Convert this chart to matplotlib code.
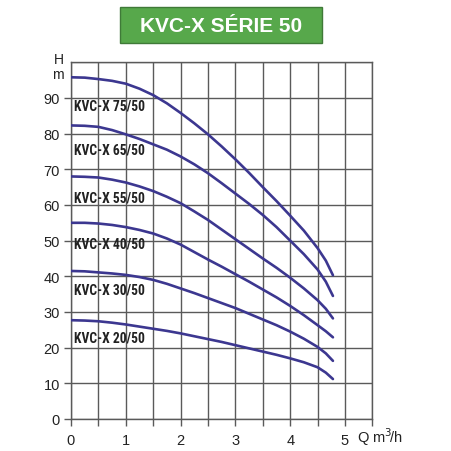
import numpy as np
import matplotlib.pyplot as plt
from matplotlib.patches import Rectangle

q = [0, 0.25, 0.5, 0.75, 1, 1.25, 1.5, 1.75, 2, 2.25, 2.5,
     2.75, 3, 3.25, 3.5, 3.75, 4, 4.25, 4.5, 4.65, 4.78]

# Head H (m) for each pump model
h_75 = [95.8, 95.7, 95.3, 94.8, 94.0, 92.6, 90.8, 88.5, 85.8, 82.9, 79.8,
        76.4, 72.8, 69.0, 65.0, 61.1, 57.0, 52.8, 47.9, 44.4, 40.3]
h_65 = [82.3, 82.2, 81.9, 81.0, 79.8, 78.5, 77.0, 75.5, 73.6, 71.4, 68.9,
        66.1, 63.2, 60.3, 57.2, 53.8, 50.0, 46.2, 41.9, 38.5, 34.5]
h_55 = [68.0, 67.9, 67.7, 67.1, 66.3, 65.2, 63.9, 62.3, 60.5, 58.2, 55.8,
        53.1, 50.4, 47.7, 45.0, 42.4, 39.6, 36.6, 33.3, 30.9, 28.2]
h_40 = [55.0, 55.0, 54.8, 54.4, 53.8, 53.0, 52.0, 50.6, 48.9, 46.8, 44.7,
        42.7, 40.6, 38.5, 36.3, 34.1, 31.7, 29.1, 26.3, 24.6, 22.9]
h_30 = [41.5, 41.4, 41.1, 40.8, 40.4, 39.8, 39.0, 37.9, 36.6, 35.3, 33.9,
        32.5, 31.1, 29.5, 27.9, 26.3, 24.5, 22.5, 20.2, 18.4, 16.3]
h_20 = [27.7, 27.6, 27.4, 27.0, 26.5, 25.9, 25.3, 24.7, 24.0, 23.2, 22.4,
        21.6, 20.7, 19.8, 18.9, 18.0, 17.0, 15.9, 14.5, 13.0, 11.2]

curves = [h_75, h_65, h_55, h_40, h_30, h_20]
names = ["KVC-X 75/50", "KVC-X 65/50", "KVC-X 55/50",
         "KVC-X 40/50", "KVC-X 30/50", "KVC-X 20/50"]
label_y = [88, 75.6, 62.1, 49.2, 36.4, 22.9]

y_ticks = [0, 10, 20, 30, 40, 50, 60, 70, 80, 90]

line_col = "#3c3790"
grid_col = "#5a5a5a"
txt_col = "#222222"
label_font = ["Roboto Condensed", "Roboto", "DejaVu Sans"]

fig = plt.figure(figsize=(4.52, 4.52), dpi=100)
ax = fig.add_axes([71 / 452, 32 / 452, 301.4 / 452, 356.7 / 452])

ax.set_xlim(0, 5.5)
ax.set_ylim(0, 100)

# grid every 0.5 on Q and every 10 on H
for gx in np.arange(0, 5.51, 0.5):
    ax.axvline(gx, color=grid_col, lw=1.0, zorder=1)
for gy in range(0, 101, 10):
    ax.axhline(gy, color=grid_col, lw=1.0, zorder=1)

for hv in curves:
    ax.plot(q, hv, color=line_col, lw=1.9, solid_capstyle="round",
            solid_joinstyle="round", zorder=3)

for name, ly in zip(names, label_y):
    ax.text(0.06, ly, name, fontsize=9.8, fontweight="bold", family=label_font,
            color=txt_col, va="center", ha="left", zorder=4)

for s in ax.spines.values():
    s.set_color(grid_col)
    s.set_linewidth(1.0)

xt = np.arange(0, 5.51, 0.5)
ax.set_xticks(xt)
ax.set_xticklabels(["" if v % 1 else str(int(v)) for v in xt])
ax.set_yticks(y_ticks)
ax.set_yticklabels([str(v) for v in y_ticks])
ax.tick_params(axis="both", length=5, width=1.0, color=grid_col,
               labelsize=10.5, labelcolor=txt_col)
ax.tick_params(axis="x", pad=5)
ax.tick_params(axis="y", pad=3)
for lab in ax.get_xticklabels() + ax.get_yticklabels():
    lab.set_family("Liberation Sans")

# axis units
fig.text(59 / 452, 1 - 60 / 452, "H", fontsize=10, family="Liberation Sans",
         color=txt_col, ha="center", va="center")
fig.text(58 / 452, 1 - 75 / 452, "m", fontsize=10, family="Liberation Sans",
         color=txt_col, ha="center", va="center")
fig.text(357 / 452, 1 - 437 / 452, r"Q m$^3\!$/h", fontsize=10.5,
         family="Liberation Sans", color=txt_col, ha="left", va="center")

# title box
fig.patches.append(Rectangle((120 / 452, 1 - 44 / 452), 202 / 452, 36 / 452,
                             transform=fig.transFigure, facecolor="#57a84b",
                             edgecolor="#3f7a38", lw=1.0))
fig.text(221 / 452, 1 - 26 / 452, "KVC-X SÉRIE 50", fontsize=15,
         fontweight="bold", family="Liberation Sans", color="white",
         ha="center", va="center")

fig.savefig("out.png", dpi=100)
